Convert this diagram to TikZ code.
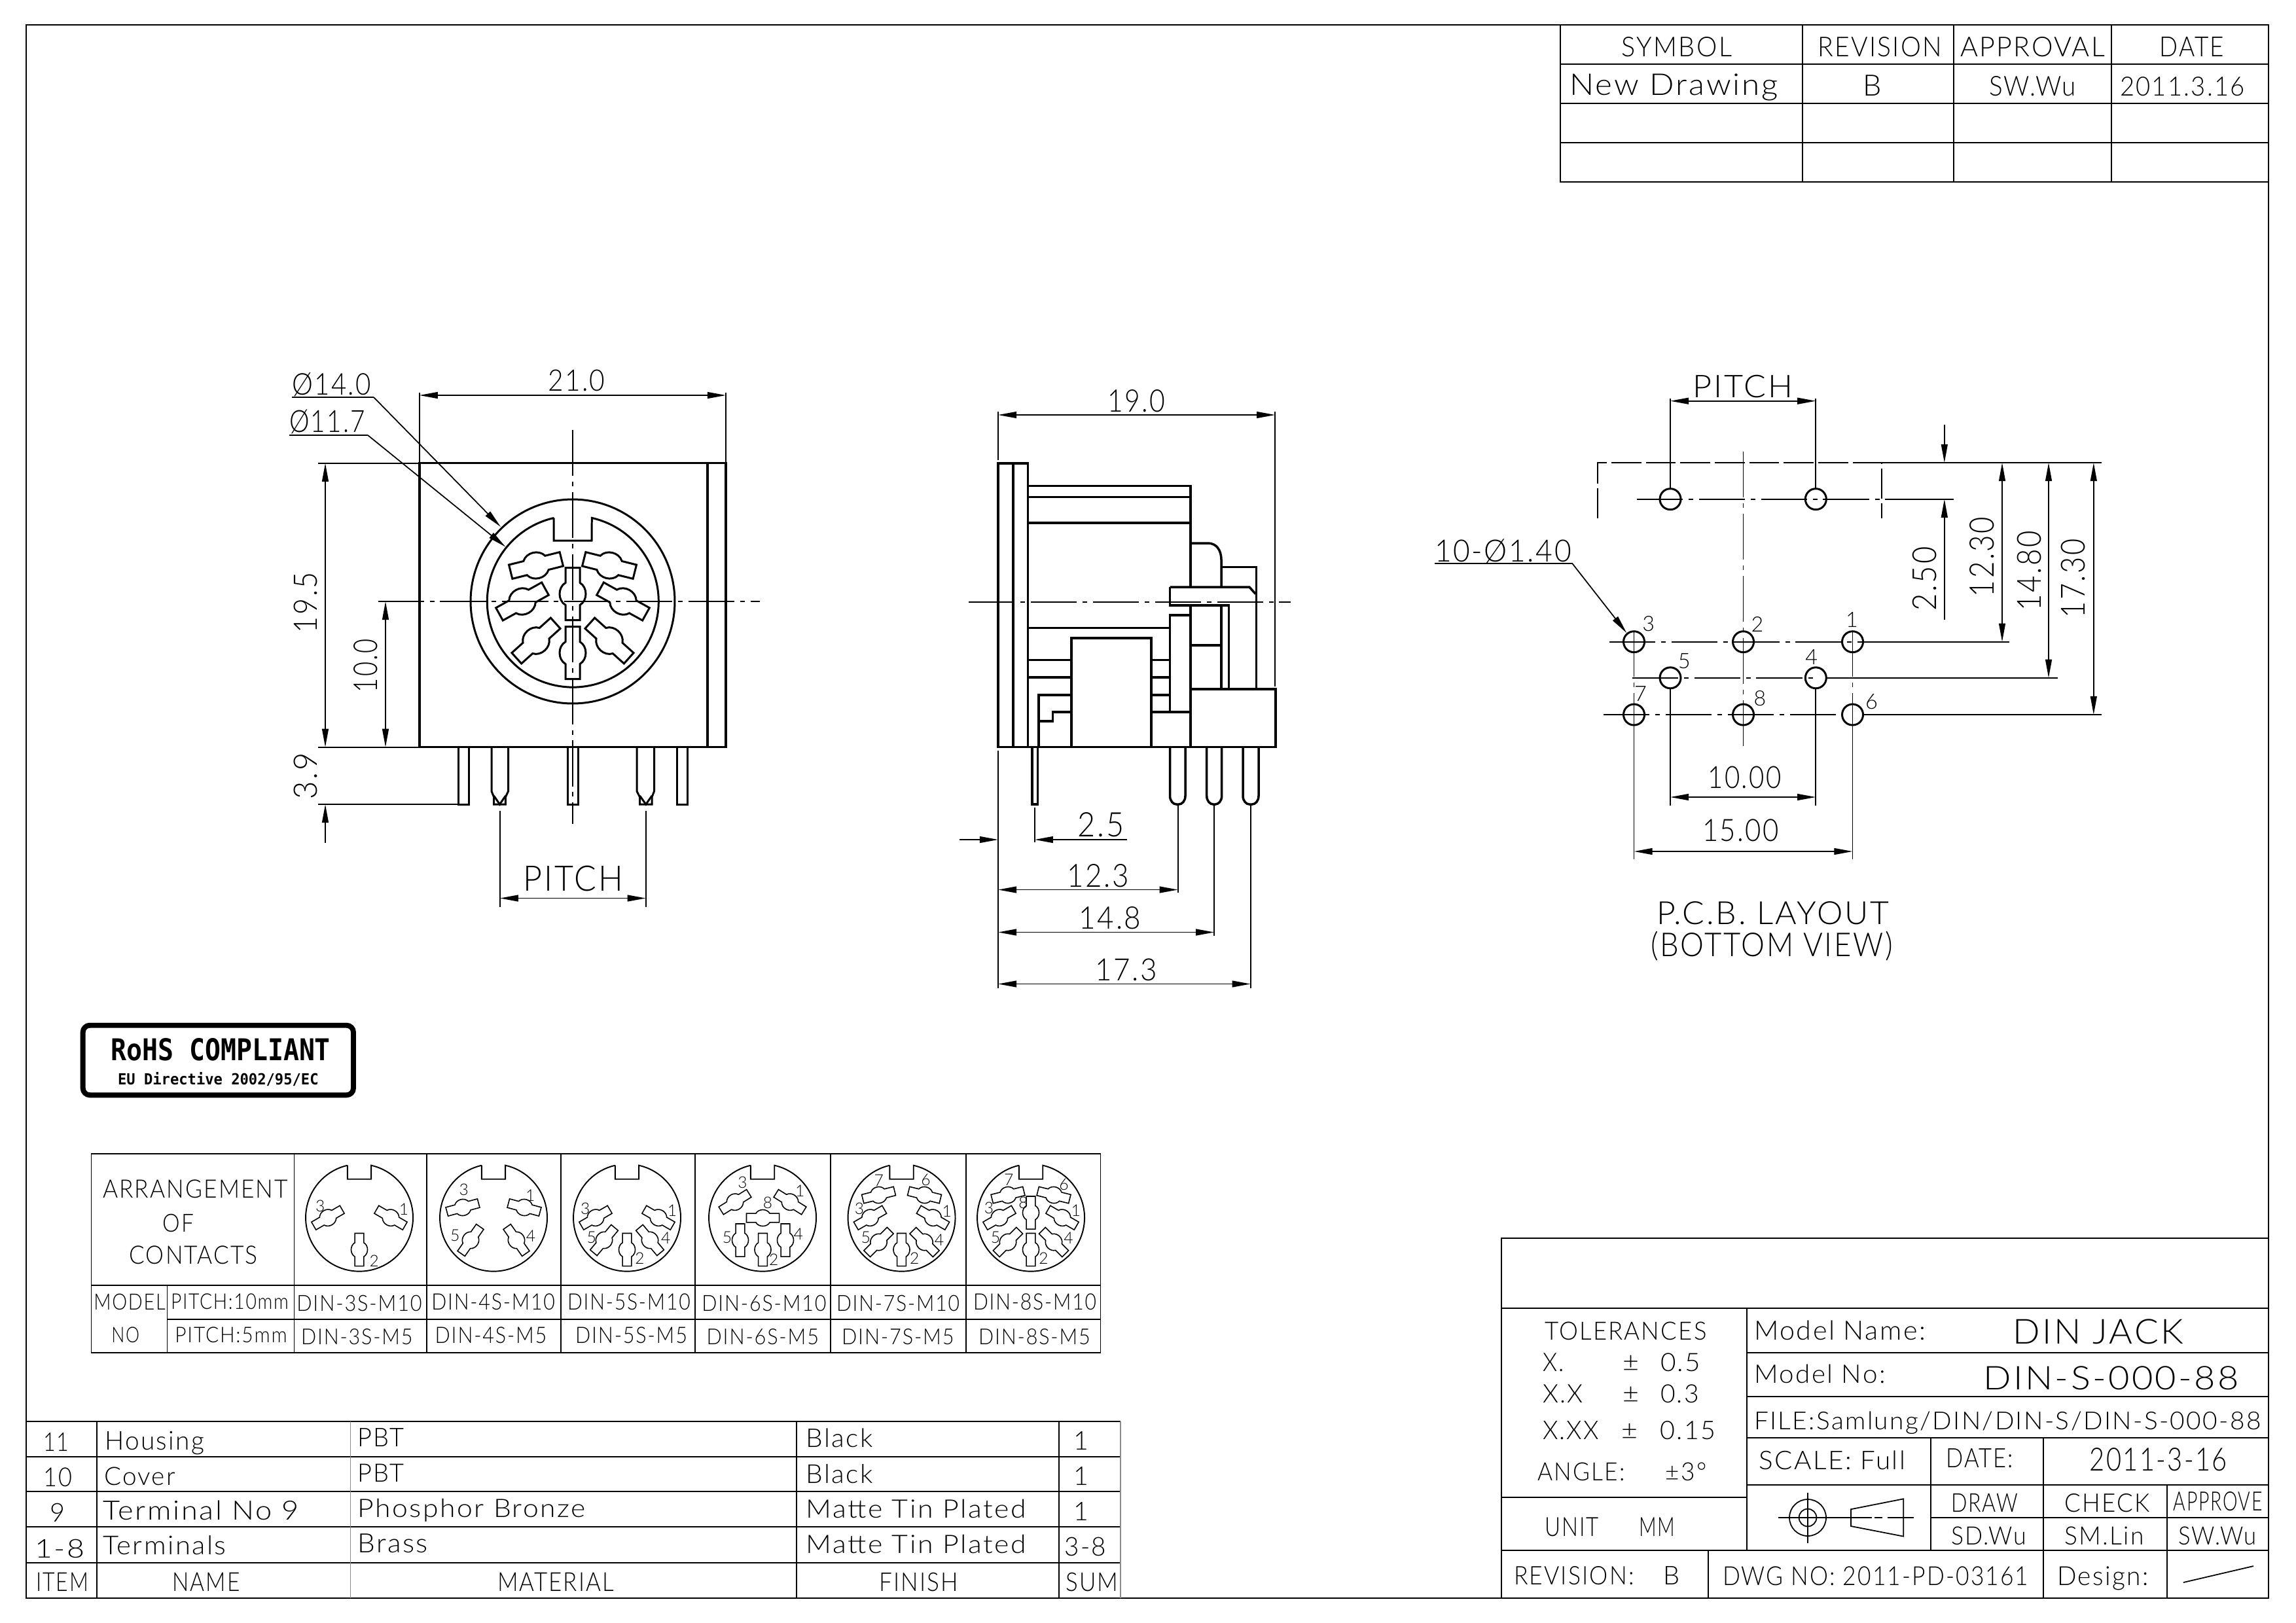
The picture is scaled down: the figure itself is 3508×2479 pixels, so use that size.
\documentclass[tikz,border=0pt]{standalone}
\usepackage{fontspec}
\usepackage{graphicx}
\setmainfont{Lato Light}[LetterSpace=6]
\newfontfamily\rohsfont{DejaVu Sans Mono}
\usetikzlibrary{arrows.meta}
\newcounter{tc}
\newcommand\TX[5]{%
 \stepcounter{tc}%
 \pgfmathsetlengthmacro\tbw{(#2-#1)*0.56906pt}%
 \pgfmathsetlengthmacro\tbh{(#4-#3)*0.56906pt}%
 \pgfmathsetmacro\tcx{(#1+#2)/2}%
 \node[txt] (t\thetc) at (\tcx,#4) {\resizebox{\tbw}{\tbh}{#5}};}
\newcommand\TR[5]{%
 \stepcounter{tc}%
 \pgfmathsetlengthmacro\tbw{(#2-#1)*0.56906pt}%
 \pgfmathsetlengthmacro\tbh{(#4-#3)*0.56906pt}%
 \pgfmathsetmacro\tcy{(#1+#2)/2}%
 \node[txt,rotate=90] (t\thetc) at (#4,\tcy) {\resizebox{\tbw}{\tbh}{#5}};}
\newcommand\LB[4]{%
 \stepcounter{tc}%
 \pgfmathsetlengthmacro\tbh{(#3)*0.56906pt}%
 \node[txt] (t\thetc) at (#1,#2) {\resizebox{!}{\tbh}{#4}};}
\newcommand\CT[5][contact]{%
 \begin{scope}[shift={(#2,#3)},rotate=#4,scale=#5]
 \draw[#1] (-40,-11) -- (-17,-11) .. controls (-10,-23) and (10,-23) .. (17,-11) -- (40,-11) -- (40,11)
   -- (17,11) .. controls (10,23) and (-10,23) .. (-17,11) -- (-40,11) -- cycle;
 \end{scope}}
\newcommand\SC[4]{\CT[smallc]{#1}{#2}{#3}{0.626}}
\newcommand\ICON[1]{%
 \pgfmathsetmacro\il{#1-18.2}\pgfmathsetmacro\ir{#1+18.2}%
 \draw[tablelw] (\il,1780.7) -- (\il,1801.7) -- (\ir,1801.7) -- (\ir,1780.7)
   arc[start angle=77.2,end angle=-257.2,radius=82*0.56906pt];}
\tikzset{
 x=0.02cm,y=-0.02cm,
 txt/.style={inner sep=0pt,outer sep=0pt,anchor=base},
 thickl/.style={line width=2pt,line join=miter},
 thinl/.style={line width=1pt},
 tablelw/.style={line width=1.1pt},
 contact/.style={line width=1.7pt,line join=miter},
 smallc/.style={line width=0.9pt,line join=miter},
 cl/.style={line width=1pt,dash pattern=on 40pt off 5pt on 4pt off 5pt},
 tip/.tip={Triangle[length=16pt,width=5.6pt]},
 dimb/.style={thinl,{tip}-{tip}},
 dime/.style={thinl,-{tip}},
}
\begin{document}
\begin{tikzpicture}
\useasboundingbox (0,0) rectangle (3508,2479);
\fill[white] (0,0) rectangle (3508,2479);
% frame
\draw[line width=1.1pt] (40,38) rectangle (3466,2442);
% revision table
\draw[tablelw] (2384,38) -- (2384,278.3) -- (3466,278.3);
\foreach \yy in {97.7,158.3,217.7} \draw[tablelw] (2384,\yy) -- (3466,\yy);
\foreach \xx in {2753.7,2985,3226} \draw[tablelw] (\xx,38) -- (\xx,278.3);
\TX{2477.6}{2646}{56.7}{86.7}{SYMBOL}
\TX{2777}{2967}{56.7}{86.7}{REVISION}
\TX{2995}{3216}{56.7}{86.7}{APPROVAL}
\TX{3299.5}{3398}{56.7}{86.7}{DATE}
\TX{2398}{2717}{112.3}{145}{New Drawing}
\LB{2860.5}{146.7}{31.7}{B}
\TX{3039}{3172}{116.7}{146.7}{SW.Wu}
\TX{3239}{3430}{117.7}{146.7}{2011.3.16}
% ===== front view
\draw[thickl] (640.8,707.7) rectangle (1109,1141.7);
\draw[thickl] (1081,707.7) -- (1081,1141.7);
\draw[contact] (875,919) circle (156*0.56906pt);
\draw[contact] (846,791.4) -- (846,826) -- (904,826) -- (904.3,791.4)
   arc[start angle=77.2,end angle=-257.2,radius=131*0.56906pt];
\CT{819}{864}{14}{1}\CT{931}{864}{-14}{1}
\CT{798}{919}{29}{1}\CT{952}{919}{-29}{1}
\CT{819}{979}{42}{1}\CT{931}{979}{-42}{1}
\CT{875}{907.5}{90}{1}\CT{875}{997.6}{90}{1}
\draw[cl] (577.5,919) -- (1161,919);
\draw[thinl] (577.5,919) -- (620,919);
\draw[cl] (875,657) -- (875,1259);
% pins front
\draw[contact] (700,1141.7) rectangle (716,1229);
\draw[contact] (867,1141.7) rectangle (883.7,1229);
\draw[contact] (1034,1141.7) rectangle (1050.5,1229);
\draw[contact] (751,1141.7) -- (751,1209) -- (754.6,1218) -- (754.6,1229) -- (772.4,1229) -- (772.4,1218) -- (776.5,1209) -- (776.5,1141.7);
\draw[contact] (754.6,1216) -- (763.5,1229) -- (772.4,1216);
\draw[contact] (973,1141.7) -- (973,1209) -- (977.6,1218) -- (977.6,1229) -- (996,1229) -- (996,1218) -- (999.5,1209) -- (999.5,1141.7);
\draw[contact] (977.6,1216) -- (986.8,1229) -- (996,1216);
% front dims
\draw[dimb] (640.8,604) -- (1109,604);
\draw[thinl] (640.8,600) -- (640.8,706) (1109,600) -- (1109,706);
\TX{837}{924.5}{565}{597.5}{21.0}
\draw[thinl] (446,607) -- (571,607);
\draw[dime] (571,607) -- (765,805);
\TX{446}{567}{569}{603}{Ø14.0}
\draw[thinl] (442,665) -- (562,665);
\draw[dime] (562,665) -- (772.5,835.7);
\TX{442}{558}{626}{660.6}{Ø11.7}
\draw[dimb] (497,707.7) -- (497,1141.7);
\draw[thinl] (486,708) -- (640,708) (486,1141.7) -- (640,1141.7);
\TR{874}{967}{448.5}{484}{19.5}
\draw[dimb] (589,919) -- (589,1141.7);
\TR{976}{1058}{540}{576}{10.0}
\draw[dime] (497,1287.5) -- (497,1229);
\draw[thinl] (486,1229) -- (701,1229);
\TR{1150}{1221.5}{448.5}{484}{3.9}
\draw[dimb] (763.8,1372.5) -- (986.7,1372.5);
\draw[thinl] (763.8,1238.7) -- (763.8,1385.7) (986.7,1238.7) -- (986.7,1385.7);
\TX{799.5}{952}{1322.5}{1361}{PITCH}
% ===== side view
\draw[thickl] (1525,708) rectangle (1570.5,1141.5);
\draw[thickl] (1548,708) -- (1548,1141.5);
\draw[thickl] (1570.5,742.3) -- (1819,742.3) -- (1819,897);
\draw[thickl] (1819,924.8) -- (1819,1141.5);
\draw[thickl] (1570.5,759.4) -- (1819,759.4) (1570.5,799) -- (1819,799);
\draw[thickl] (1570.5,959.7) -- (1787.5,959.7);
\draw[thickl] (1787.5,1088) -- (1787.5,940) -- (1819,940);
\draw[thickl] (1787.5,897) -- (1908.8,897) -- (1918.4,907.6);
\draw[thickl] (1787.5,897) -- (1787.5,924.8) -- (1877.4,924.8) -- (1877.4,1052.8);
\draw[thickl] (1819,830) -- (1845.7,830) .. controls (1858,830) and (1866,840) .. (1866,855.6) -- (1866,897);
\draw[thickl] (1866,924.8) -- (1866,1052.8);
\draw[thickl] (1866,866.6) -- (1919.5,866.6) -- (1919.5,1052.8);
\draw[thickl] (1819,986) -- (1866,986);
\draw[thickl] (1819,1052.8) -- (1949,1052.8) -- (1949,1141.5) -- (1525,1141.5);
\draw[thickl] (1637,1141.5) -- (1637,975) -- (1758.8,975) -- (1758.8,1141.5);
\draw[thickl] (1570.5,1008.7) -- (1637,1008.7) (1570.5,1035) -- (1637,1035);
\draw[thickl] (1758.8,1008.7) -- (1787.5,1008.7) (1758.8,1035) -- (1787.5,1035) (1758.8,1062) -- (1787.5,1062) (1758.8,1088) -- (1819,1088);
\draw[thickl] (1587,1141.5) -- (1587,1062) -- (1637,1062);
\draw[thickl] (1587,1102) -- (1608.4,1102) -- (1608.4,1088) -- (1637,1088);
\draw[thickl] (1577,1141.5) -- (1577,1229) -- (1585.4,1229) -- (1585.4,1141.5);
\foreach \aa/\bb in {1787.5/1811,1843.7/1866.7,1899/1923}{
 \draw[thickl] (\aa,1141.5) -- (\aa,1216) .. controls (\aa,1224) and ({\aa+5},1229) .. ({\aa+10},1229) -- ({\bb-10},1229)
   .. controls ({\bb-5},1229) and (\bb,1224) .. (\bb,1216) -- (\bb,1141.5);}
\draw[cl] (1480,920) -- (1972,920);
% side dims
\draw[dimb] (1525,634) -- (1948.2,634);
\draw[thinl] (1525,629) -- (1525,702.5) (1948.2,629) -- (1948.2,1048.5);
\TX{1692}{1780}{595}{629}{19.0}
\draw[dime] (1466,1283) -- (1525,1283);
\draw[dime] (1722,1283) -- (1580.8,1283);
\draw[thinl] (1580.8,1234) -- (1580.8,1287);
\TX{1646.7}{1717.5}{1241}{1278}{2.5}
\draw[thinl] (1525,1146.5) -- (1525,1509.6);
\draw[dimb] (1525,1359.5) -- (1799.7,1359.5);
\draw[thinl] (1799.7,1229) -- (1799.7,1364);
\TX{1630.6}{1725}{1320}{1355}{12.3}
\draw[dimb] (1525,1424.5) -- (1855.2,1424.5);
\draw[thinl] (1855.2,1229) -- (1855.2,1430);
\TX{1648.6}{1743.5}{1385}{1419}{14.8}
\draw[dimb] (1525,1503.5) -- (1910.7,1503.5);
\draw[thinl] (1910.7,1229) -- (1910.7,1509.6);
\TX{1673.4}{1768}{1465}{1498.6}{17.3}
% ===== PCB layout
\foreach \hx/\hy in {2552/762.7,2774.3/762.7,2496.5/980.7,2663.5/980.7,2830.5/980.7,2552/1035.8,2774.3/1035.8,2496.5/1092,2663.5/1092,2830.5/1092}
 \draw[contact] (\hx,\hy) circle (16*0.56906pt);
\draw[thinl,dash pattern=on 26pt off 4pt] (2441,791.5) -- (2441,707) -- (2874.7,707) -- (2874.7,791.5);
\draw[thinl] (2874.7,707) -- (3211,707);
\draw[cl] (2663.5,690) -- (2663.5,1146.6);
\draw[cl] (2500.8,762.7) -- (2880,762.7);
\draw[thinl] (2880,762.7) -- (2984.8,762.7);
\draw[cl] (2458.7,980.7) -- (2880,980.7);
\draw[thinl] (2880,980.7) -- (3070,980.7);
\draw[cl] (2493.7,1035.8) -- (2770,1035.8);
\draw[thinl] (2790,1035.8) -- (3144,1035.8);
\draw[cl] (2450,1092) -- (2815,1092);
\draw[thinl] (2847,1092) -- (3211,1092);
\draw[cl] (2496.5,964) -- (2496.5,1076);
\draw[cl] (2830.5,964) -- (2830.5,1076);
\draw[thinl] (2496.5,1076) -- (2496.5,1313) (2830.5,1076) -- (2830.5,1313);
\draw[thinl] (2552,1051) -- (2552,1230.6) (2774.3,1051) -- (2774.3,1230.6);
\draw[thinl] (2552,609) -- (2552,747) (2774.3,609) -- (2774.3,747);
\draw[dimb] (2552,612.7) -- (2774.3,612.7);
\TX{2586}{2739}{573.5}{607.8}{PITCH}
\draw[dime] (2970.8,648.8) -- (2970.8,707);
\draw[dime] (2970.8,947) -- (2970.8,762.7);
\TR{835.6}{933.5}{2921.7}{2958}{2.50}
\draw[dimb] (3059,707) -- (3059,980.7);
\TR{789.6}{912}{3009}{3046}{12.30}
\draw[dimb] (3130,707) -- (3130,1035.8);
\TR{811}{933.5}{3081.6}{3118}{14.80}
\draw[dimb] (3198.8,707) -- (3198.8,1092);
\TR{823.3}{944.6}{3149}{3185.4}{17.30}
\draw[dimb] (2552,1218) -- (2774.3,1218);
\TX{2609.5}{2721.7}{1170.5}{1204}{10.00}
\draw[dimb] (2496.5,1301) -- (2830.5,1301);
\TX{2601}{2718}{1252}{1285.7}{15.00}
\draw[thinl] (2192,861.3) -- (2402.5,861.3);
\draw[dime] (2402.5,861.3) -- (2485.3,967.2);
\TX{2192}{2401}{823.3}{858}{10-Ø1.40}
\LB{2518.7}{964}{23}{3}\LB{2684.8}{965.4}{23}{2}\LB{2829.5}{958}{23}{1}
\LB{2573.2}{1021}{23}{5}\LB{2767.8}{1015}{23}{4}\LB{2506.5}{1071}{23}{7}
\LB{2689}{1078.7}{23}{8}\LB{2859.5}{1083.6}{23}{6}
\TX{2531}{2886.6}{1377.5}{1412.4}{P.C.B. LAYOUT}
\TX{2522}{2892}{1423}{1461.4}{(BOTTOM VIEW)}
% ===== RoHS
\draw[line width=4.5pt,rounded corners=6pt] (126.7,1566.7) rectangle (540,1673.3);
\TX{169.3}{505}{1586}{1620}{\rohsfont\bfseries RoHS COMPLIANT}
\TX{180}{486.7}{1638.3}{1657.3}{\rohsfont\bfseries EU Directive 2002/95/EC}
% ===== arrangement table
\draw[tablelw] (139.5,1762.7) rectangle (1681.5,2066.7);
\draw[tablelw] (139.5,1964) -- (1681.5,1964) (255.5,2015.7) -- (1681.5,2015.7) (255.5,1964) -- (255.5,2066.7);
\foreach \xx in {449.5,652.2,857,1062,1268.6,1475.8} \draw[tablelw] (\xx,1762.7) -- (\xx,2066.7);
\TX{157}{440}{1802.3}{1830}{ARRANGEMENT}
\TX{248.5}{296}{1855}{1882.3}{OF}
\TX{197.5}{393.7}{1904}{1931.7}{CONTACTS}
\TX{143.3}{252.8}{1977.3}{2001.7}{MODEL}
\TX{170.4}{213}{2028}{2051.7}{NO}
\TX{261}{441}{1977}{2000.7}{PITCH:10mm}
\TX{267.4}{438.7}{2028}{2051.7}{PITCH:5mm}
\TX{453.3}{644.7}{1979}{2003.3}{DIN-3S-M10}
\TX{659.3}{848}{1977}{2001.7}{DIN-4S-M10}
\TX{867}{1054.7}{1977}{2001.7}{DIN-5S-M10}
\TX{1072.4}{1262.4}{1979}{2003.3}{DIN-6S-M10}
\TX{1278}{1466}{1979}{2003.3}{DIN-7S-M10}
\TX{1487}{1675}{1977}{2001.7}{DIN-8S-M10}
\TX{460}{630.6}{2030}{2054}{DIN-3S-M5}
\TX{664.7}{835.4}{2028}{2052.7}{DIN-4S-M5}
\TX{879}{1050}{2028}{2052.7}{DIN-5S-M5}
\TX{1079.6}{1251}{2030}{2054}{DIN-6S-M5}
\TX{1286}{1457.6}{2030}{2054}{DIN-7S-M5}
\TX{1495}{1665.7}{2030}{2054}{DIN-8S-M5}
% icons
\ICON{549}\ICON{754}\ICON{958}\ICON{1165}\ICON{1377.5}\ICON{1575}
% cell 1
\SC{501}{1860.7}{30}{}\SC{597}{1860.7}{-30}{}\SC{549}{1909.5}{90}{}
\LB{489.3}{1851.7}{17.5}{3}\LB{617}{1856}{17.5}{1}\LB{571.7}{1935}{17.5}{2}
% cell 2
\SC{707}{1845}{15}{}\SC{801}{1845}{-15}{}\SC{719}{1895}{55}{}\SC{789}{1895}{-55}{}
\LB{708.8}{1826.7}{17.5}{3}\LB{810.2}{1835}{17.5}{1}\LB{695.3}{1896.7}{17.5}{5}\LB{811}{1897}{17.5}{4}
% cell 3
\SC{910}{1860.7}{30}{}\SC{1006}{1860.7}{-30}{}\SC{923}{1895}{50}{}\SC{993}{1895}{-50}{}\SC{958}{1909.5}{90}{}
\LB{894.2}{1855}{17.5}{3}\LB{903.9}{1899}{17.5}{5}\LB{1027}{1858}{17.5}{1}\LB{1017.3}{1900.7}{17.5}{4}\LB{977.5}{1931.7}{17.5}{2}
% cell 4
\SC{1123}{1836.7}{32}{}\SC{1207}{1836.7}{-32}{}\SC{1165.5}{1861}{0}{}\SC{1131}{1895}{90}{}\SC{1200}{1895}{90}{}\SC{1165.5}{1909.5}{90}{}
\LB{1134.4}{1815.7}{17.5}{3}\LB{1222.2}{1828}{17.5}{1}\LB{1173}{1846.7}{17.5}{8}\LB{1111}{1899}{17.5}{5}\LB{1219.8}{1894}{17.5}{4}\LB{1182.3}{1933}{17.5}{2}
% cell 5
\SC{1342.5}{1826}{14}{}\SC{1412.5}{1826}{-14}{}\SC{1329.5}{1860.7}{30}{}\SC{1425.5}{1860.7}{-30}{}\SC{1342.5}{1898}{45}{}\SC{1412.5}{1898}{-45}{}\SC{1377.5}{1909.5}{90}{}
\LB{1342.7}{1812}{17.5}{7}\LB{1414.5}{1811.7}{17.5}{6}\LB{1313}{1855}{17.5}{3}\LB{1446.7}{1859}{17.5}{1}\LB{1322.9}{1899}{17.5}{5}\LB{1435}{1903}{17.5}{4}\LB{1397.1}{1931}{17.5}{2}
% cell 6
\SC{1540}{1826}{14}{}\SC{1610}{1826}{-14}{}\SC{1527}{1860.7}{30}{}\SC{1623}{1860.7}{-30}{}\SC{1540}{1898}{45}{}\SC{1610}{1898}{-45}{}\SC{1575}{1853}{90}{}\SC{1575}{1909.5}{90}{}
\LB{1541.3}{1811}{17.5}{7}\LB{1625.5}{1818}{17.5}{6}\LB{1563.5}{1846.7}{17.5}{8}\LB{1511}{1854}{17.5}{3}\LB{1643.8}{1858}{17.5}{1}\LB{1521}{1899}{17.5}{5}\LB{1632.5}{1900.7}{17.5}{4}\LB{1594.5}{1931.7}{17.5}{2}
% ===== BOM table
\foreach \yy in {2171.7,2225.7,2279.3,2333.3,2387.7} \draw[tablelw] (40,\yy) -- (1712,\yy);
\foreach \xx in {148.3,1217.4,1617.6} \draw[tablelw] (\xx,2171.7) -- (\xx,2441.7);
\draw[line width=0.7pt,black!45] (535.4,2171.7) -- (535.4,2441.7);
\draw[line width=0.7pt,black!45] (1712,2171.7) -- (1712,2441.7);
\TX{66}{105.5}{2189}{2217}{11}
\TX{160}{312}{2186.7}{2215}{Housing}
\TX{546.3}{617.6}{2182}{2210}{PBT}
\TX{1231.6}{1333.6}{2183}{2211.7}{Black}
\LB{1652}{2215}{28}{1}
\TX{66}{110}{2243}{2271.7}{10}
\TX{159}{268}{2241.7}{2269.3}{Cover}
\TX{546.3}{617.6}{2236.7}{2264}{PBT}
\TX{1231.6}{1333.6}{2237}{2266}{Black}
\LB{1652}{2269}{28}{1}
\LB{88}{2325}{28.3}{9}
\TX{157}{456.4}{2292.7}{2322.3}{Terminal No 9}
\TX{546.3}{895}{2290}{2318.3}{Phosphor Bronze}
\TX{1231.6}{1568}{2291}{2319.3}{Matte Tin Plated}
\LB{1652}{2323}{28}{1}
\TX{53}{129.6}{2351.7}{2380}{1-8}
\TX{157}{345.7}{2346.7}{2375.7}{Terminals}
\TX{546.3}{653.8}{2344}{2372.7}{Brass}
\TX{1231.6}{1568}{2345}{2373.3}{Matte Tin Plated}
\TX{1626.4}{1690}{2349.3}{2377.7}{3-8}
\TX{55}{135}{2402.7}{2431}{ITEM}
\TX{263.4}{366.5}{2402.7}{2431}{NAME}
\TX{760}{937.8}{2402.7}{2431}{MATERIAL}
\TX{1343.5}{1464}{2402.7}{2431}{FINISH}
\TX{1628.5}{1708.6}{2402.7}{2431}{SUM}
% ===== title block
\draw[tablelw] (2293.8,2442) -- (2293.8,1892) -- (3466,1892);
\draw[tablelw] (2293.8,1999) -- (3466,1999);
\draw[tablelw] (2668.7,1999) -- (2668.7,2369);
\draw[tablelw] (2293.8,2287.7) -- (2668.7,2287.7);
\draw[tablelw] (2293.8,2369) -- (3466,2369);
\foreach \yy in {2066.8,2134.2,2197,2269.2} \draw[tablelw] (2668.7,\yy) -- (3466,\yy);
\draw[tablelw] (2950.3,2197) -- (2950.3,2369);
\draw[tablelw] (3122.4,2197) -- (3122.4,2442);
\draw[tablelw] (3311.4,2269.2) -- (3311.4,2442);
\draw[tablelw] (2950.3,2319) -- (3466,2319);
\draw[tablelw] (2609.8,2369) -- (2609.8,2442);
\TX{2360.4}{2607.5}{2019.5}{2047}{TOLERANCES}
\TX{2357}{2389.5}{2067.6}{2095.3}{X.}
\TX{2479}{2504}{2071}{2095.3}{±}
\TX{2537}{2598.3}{2067.6}{2095.3}{0.5}
\TX{2357}{2418.5}{2115.7}{2143.4}{X.X}
\TX{2479}{2504}{2119}{2143.4}{±}
\TX{2537}{2596}{2115.7}{2143.4}{0.3}
\TX{2357}{2443}{2171}{2199}{X.XX}
\TX{2477}{2502}{2175}{2199}{±}
\TX{2536.4}{2621.3}{2171}{2199}{0.15}
\TX{2349.7}{2482.8}{2235}{2262.5}{ANGLE:}
\TX{2544.8}{2607.5}{2235}{2262.5}{±3°}
\TX{2360.4}{2443}{2318.4}{2347}{UNIT}
\TX{2504}{2559}{2318.4}{2347}{MM}
\TX{2680}{2942}{2017.6}{2047.2}{Model Name:}
\TX{3075.8}{3336}{2015.8}{2053.5}{DIN JACK}
\TX{2680}{2880.7}{2085.3}{2113.8}{Model No:}
\TX{3030.6}{3420.8}{2088}{2123.8}{DIN-S-000-88}
\TX{2680}{3454.5}{2156.4}{2184}{FILE:Samlung/DIN/DIN-S/DIN-S-000-88}
\TX{2687.9}{2911}{2216.3}{2245}{SCALE: Full}
\TX{2973.3}{3075.8}{2213.7}{2242.6}{DATE:}
\TX{3192.8}{3403}{2212}{2247}{2011-3-16}
\TX{2981}{3083.4}{2282}{2310}{DRAW}
\TX{3154.6}{3284.6}{2282}{2310}{CHECK}
\TX{3320.6}{3456.8}{2279}{2308}{APPROVE}
\TX{2981}{3095.7}{2333}{2360.6}{SD.Wu}
\TX{3154.6}{3275.5}{2333}{2360.6}{SM.Lin}
\TX{3328}{3447.6}{2333}{2360.6}{SW.Wu}
\TX{2313}{2496.6}{2393}{2421}{REVISION:}
\LB{2553.9}{2421}{28}{B}
\TX{2632}{3099.5}{2394}{2422.7}{DWG NO: 2011-PD-03161}
\TX{3143}{3282.3}{2394}{2422.7}{Design:}
\draw[thinl] (3335.9,2418) -- (3443,2393);
% projection symbol
\draw[thinl] (2762,2319) circle (28*0.56906pt) circle (13.4*0.56906pt);
\draw[thinl] (2762,2281.4) -- (2762,2358);
\draw[thinl] (2717,2319) -- (2860,2319);
\draw[thinl] (2864,2319) -- (2876,2319) (2884,2319) -- (2923.5,2319);
\draw[thinl] (2827.9,2306.2) -- (2908.2,2290.3) -- (2908.2,2347.6) -- (2827.9,2332) -- cycle;
\end{tikzpicture}
\end{document}
